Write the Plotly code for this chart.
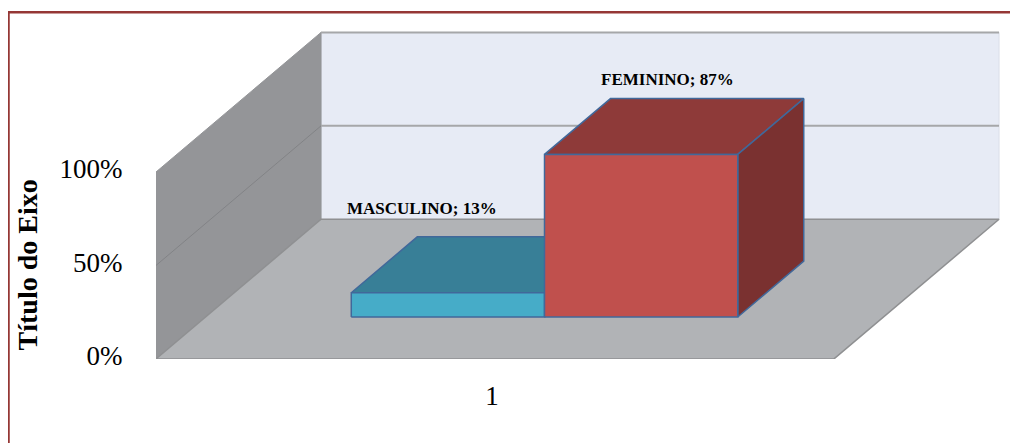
import plotly.graph_objects as go

# values
categories = ["MASCULINO", "FEMININO"]
shares = [13, 87]
y_ticks = [0, 50, 100]
y_tick_labels = ["0%", "50%", "100%"]
x_ticks = [1]
x_tick_labels = ["1"]

# the fake 3D: how far the back of the box moves, in axis units
DEPTH_X = 0.2434
DEPTH_Y = 74.7
X_MIN, X_MAX = 0.5, 1.5
Y_MAX = 100
BAR_WIDTH = 0.285
BAR_FRONT, BAR_BACK = 0.3, 0.7

FONT = "Liberation Serif"
EDGE = "#41689A"
WALL_LINE = "#A6A7A9"

FIG_W, FIG_H = 1010, 450
FLOOR_PX = 360.5
PX_PER_PCT = 1.92

# front, top, side colours per bar
bar_colors = [
    ("#46ACC8", "#387F97", "#2F6C80"),
    ("#C0504D", "#8E3A39", "#7A3130"),
]
# label offsets in px from the front centre / back top of the bar
label_shifts = [(-26, 28), (26, 19)]


def project(x, value, depth):
    return x + depth * DEPTH_X, value + depth * DEPTH_Y


def polygon(points, fill, line_color, line_width=1.5):
    xs, ys = zip(*(project(*p) for p in points + points[:1]))
    return go.Scatter(
        x=xs,
        y=ys,
        mode="lines",
        fill="toself",
        fillcolor=fill,
        line={"color": line_color, "width": line_width},
        hoverinfo="skip",
        showlegend=False,
        cliponaxis=False,
    )


def segment(points, color, width=1.5):
    xs, ys = zip(*(project(*p) for p in points))
    return go.Scatter(
        x=xs,
        y=ys,
        mode="lines",
        line={"color": color, "width": width},
        hoverinfo="skip",
        showlegend=False,
        cliponaxis=False,
    )


fig = go.Figure()

# walls and floor
fig.add_trace(
    polygon(
        [(X_MIN, 0, 1), (X_MIN, Y_MAX, 1), (X_MAX, Y_MAX, 1), (X_MAX, 0, 1)],
        "#E7EBF5",
        "#D9DDE8",
        1,
    )
)
fig.add_trace(
    polygon(
        [(X_MIN, 0, 0), (X_MIN, Y_MAX, 0), (X_MIN, Y_MAX, 1), (X_MIN, 0, 1)],
        "#949598",
        "#949598",
        1,
    )
)
fig.add_trace(
    polygon(
        [(X_MIN, 0, 0), (X_MAX, 0, 0), (X_MAX, 0, 1), (X_MIN, 0, 1)],
        "#B1B3B6",
        "#8F9092",
        1.5,
    )
)
fig.add_trace(segment([(X_MIN, 50, 0), (X_MIN, 50, 1)], "#828386", 1))
fig.add_trace(segment([(X_MIN, 50, 1), (X_MAX, 50, 1)], WALL_LINE, 2))
fig.add_trace(segment([(X_MIN, Y_MAX, 1), (X_MAX, Y_MAX, 1)], WALL_LINE, 2))

# boxes, left to right so the red one covers the side of the blue one
for i, value in enumerate(shares):
    left = 1 - BAR_WIDTH + i * BAR_WIDTH
    right = left + BAR_WIDTH
    front, top, side = bar_colors[i]
    fig.add_trace(
        polygon(
            [(left, value, BAR_FRONT), (left, value, BAR_BACK), (right, value, BAR_BACK), (right, value, BAR_FRONT)],
            top,
            EDGE,
        )
    )
    fig.add_trace(
        polygon(
            [(right, 0, BAR_FRONT), (right, value, BAR_FRONT), (right, value, BAR_BACK), (right, 0, BAR_BACK)],
            side,
            EDGE,
        )
    )
    fig.add_trace(
        polygon(
            [(left, 0, BAR_FRONT), (left, value, BAR_FRONT), (right, value, BAR_FRONT), (right, 0, BAR_FRONT)],
            front,
            EDGE,
        )
    )
    label_x, _ = project((left + right) / 2, value, BAR_FRONT)
    _, label_y = project(left, value, BAR_BACK)
    fig.add_annotation(
        x=label_x,
        y=label_y,
        text=f"<b>{categories[i]}; {value}%</b>",
        showarrow=False,
        xshift=label_shifts[i][0],
        yshift=label_shifts[i][1],
        font={"family": FONT, "size": 17, "color": "#000000"},
    )

fig.add_annotation(
    xref="paper",
    yref="paper",
    x=19 / FIG_W,
    y=(FIG_H - 264.5) / FIG_H,
    xanchor="center",
    yanchor="middle",
    text="<b>Título do Eixo</b>",
    textangle=-90,
    showarrow=False,
    font={"family": FONT, "size": 28, "color": "#000000"},
)

# outer frame, only top and left are visible in the source
top_line = (FIG_H - 4.4) / FIG_H
fig.add_shape(type="line", xref="paper", yref="paper", x0=0, x1=1, y0=top_line, y1=top_line, line={"color": "#953735", "width": 2.5})
fig.add_shape(type="line", xref="paper", yref="paper", x0=0.5 / FIG_W, x1=0.5 / FIG_W, y0=0, y1=top_line, line={"color": "#953735", "width": 2.5})

fig.update_layout(
    width=FIG_W,
    height=FIG_H,
    margin={"l": 0, "r": 0, "t": 0, "b": 0},
    paper_bgcolor="#FFFFFF",
    plot_bgcolor="#FFFFFF",
    showlegend=False,
    font={"family": FONT, "color": "#000000"},
)
fig.update_xaxes(
    domain=[148 / FIG_W, 1],
    range=[X_MIN, X_MIN + 862 / 678],
    tickvals=x_ticks,
    ticktext=x_tick_labels,
    tickfont={"size": 27},
    ticks="outside",
    ticklen=13,
    tickcolor="rgba(0,0,0,0)",
    ticklabelshift=-3,
    showgrid=False,
    zeroline=False,
    showline=False,
)
fig.update_yaxes(
    domain=[(FIG_H - FLOOR_PX) / FIG_H, 1],
    range=[0, FLOOR_PX / PX_PER_PCT],
    tickvals=y_ticks,
    ticktext=y_tick_labels,
    tickfont={"size": 27},
    ticks="outside",
    ticklen=27,
    tickcolor="rgba(0,0,0,0)",
    ticklabelshift=-3,
    showgrid=False,
    zeroline=False,
    showline=False,
)

fig.write_html("out.html")
